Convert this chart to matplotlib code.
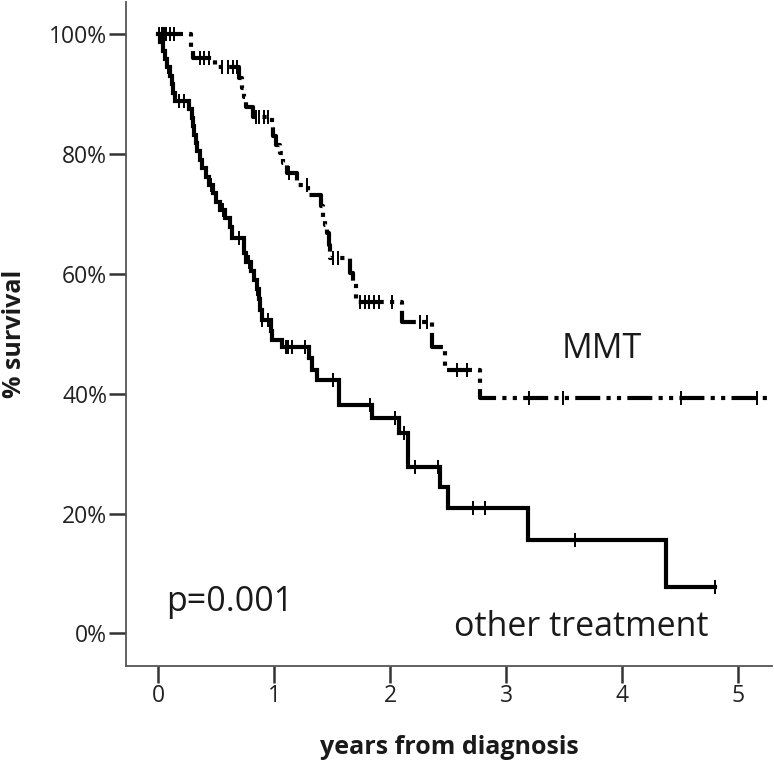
import numpy as np
import matplotlib
matplotlib.use("Agg")
import matplotlib.pyplot as plt

plt.rcParams['font.family'] = ['Open Sans', 'DejaVu Sans']

# ---- data ----
other_times = [0.02, 0.04, 0.06, 0.08, 0.10, 0.12, 0.13, 0.15,
               0.27, 0.29, 0.30, 0.31, 0.33, 0.34, 0.36, 0.38, 0.41, 0.44,
               0.47, 0.50, 0.53, 0.58, 0.62, 0.64,
               0.74, 0.76, 0.80, 0.83, 0.85, 0.87, 0.88, 0.90, 0.97, 0.98,
               1.07, 1.30, 1.33, 1.37, 1.56, 1.84, 2.08, 2.15, 2.43, 2.50,
               3.19, 4.38]
other_surv = [98.6, 97.2, 95.8, 94.4, 93.0, 91.6, 90.2, 88.8,
              87.4, 86.0, 84.6, 83.2, 81.8, 80.4, 79.0, 77.6, 76.2, 74.8,
              73.4, 72.0, 70.6, 69.2, 67.8, 65.9,
              63.5, 62.0, 60.5, 59.0, 57.4, 55.8, 54.0, 52.3, 50.5, 49.0,
              47.7, 46.0, 44.0, 42.3, 38.1, 36.0, 33.4, 27.8, 24.4, 20.9,
              15.6, 7.7]
other_end = 4.80
other_censor = [0.01, 0.03, 0.05, 0.09, 0.11, 0.18, 0.22, 0.32, 0.37,
                0.46, 0.56, 0.70, 0.78, 0.85, 0.90, 0.95, 1.10, 1.12,
                1.15, 1.27, 1.51, 1.83, 2.04, 2.12, 2.21, 2.41, 2.71,
                2.82, 3.59, 4.80]

mmt_times = [0.28, 0.30, 0.49, 0.70, 0.72, 0.74, 0.76, 0.82, 0.98, 0.99,
             1.02, 1.05, 1.08, 1.11, 1.20, 1.29, 1.40, 1.42, 1.44, 1.46,
             1.47, 1.48, 1.65, 1.68, 1.71, 2.10, 2.36, 2.47, 2.77]
mmt_surv = [97.3, 95.9, 94.4, 92.7, 91.0, 89.5, 87.8, 86.1, 84.5, 83.0,
            81.5, 80.2, 78.5, 76.8, 74.8, 73.1, 71.3, 69.5, 68.1, 66.8,
            64.7, 62.6, 60.1, 58.4, 55.3, 52.0, 47.8, 44.0, 39.3]
mmt_end = 5.40
mmt_censor = [0.03, 0.05, 0.07, 0.10, 0.14, 0.36, 0.40, 0.44, 0.55, 0.60,
              0.65, 0.68, 0.84, 0.87, 0.91, 0.95, 1.13, 1.28, 1.51, 1.55,
              1.74, 1.78, 1.82, 1.86, 1.90, 2.02, 2.26, 2.32, 2.58, 2.66,
              3.20, 3.49, 4.51, 5.16]

x_ticks = [0, 1, 2, 3, 4, 5]
y_ticks = [0, 20, 40, 60, 80, 100]
y_ticklabels = ['0%', '20%', '40%', '60%', '80%', '100%']


def km_steps(times, surv, end):
    t = np.concatenate([[0.0], times, [end]])
    s = np.concatenate([[100.0], surv, [surv[-1]]])
    return t, s


def surv_at(times, surv, t):
    idx = np.searchsorted(np.asarray(times), np.asarray(t), side='right')
    s = np.concatenate([[100.0], surv])
    return s[idx]


W, H = 774, 764
fig = plt.figure(figsize=(W / 100, H / 100), dpi=100)
ax = fig.add_axes([126 / W, 1 - 666 / H, (772 - 126) / W, (666 - 2) / H])

lw = 3.0
# other treatment (solid)
t, s = km_steps(other_times, other_surv, other_end)
ax.step(t, s, where='post', color='black', lw=lw, solid_joinstyle='miter')
ax.plot(other_censor, surv_at(other_times, other_surv, other_censor),
        ls='none', marker='|', ms=10, mew=1.4, color='black')

# MMT (dash-dot-dot)
t, s = km_steps(mmt_times, mmt_surv, mmt_end)
ax.step(t, s, where='post', color='black', lw=lw,
        ls=(0, (6.0, 1.5, 1.0, 1.5, 1.0, 1.5)), dash_capstyle='butt')
ax.plot(mmt_censor, surv_at(mmt_times, mmt_surv, mmt_censor),
        ls='none', marker='|', ms=10, mew=1.4, color='black')

ax.set_xlim(-0.276, 5.29)
ax.set_ylim(-5.42, 105.3)
ax.set_xticks(x_ticks)
ax.set_yticks(y_ticks)
ax.set_yticklabels(y_ticklabels)
for sp in ['top', 'right']:
    ax.spines[sp].set_visible(False)
for sp in ['left', 'bottom']:
    ax.spines[sp].set_color('#555555')
    ax.spines[sp].set_linewidth(1.3)
ax.tick_params(axis='both', direction='out', length=12, width=1.8,
               color='#333333', labelsize=16.5, labelcolor='#222222', pad=1.5)
ax.tick_params(axis='x', pad=1)

ax.text(3.82, 47.5, 'MMT', fontsize=24.5, ha='center', va='center', color='#1a1a1a')
ax.text(3.65, 1.0, 'other treatment', fontsize=24.5, ha='center', va='center', color='#1a1a1a')
ax.text(0.62, 5.3, 'p=0.001', fontsize=24.5, ha='center', va='center', color='#1a1a1a')

fig.text(449 / W, 1 - 748 / H, 'years from diagnosis', fontsize=18,
         fontweight='bold', ha='center', va='center', color='#1a1a1a')
fig.text(15 / W, 1 - 334 / H, '% survival', fontsize=18, fontweight='bold',
         rotation=90, ha='center', va='center', color='#1a1a1a')

fig.savefig('out.png', dpi=100)
